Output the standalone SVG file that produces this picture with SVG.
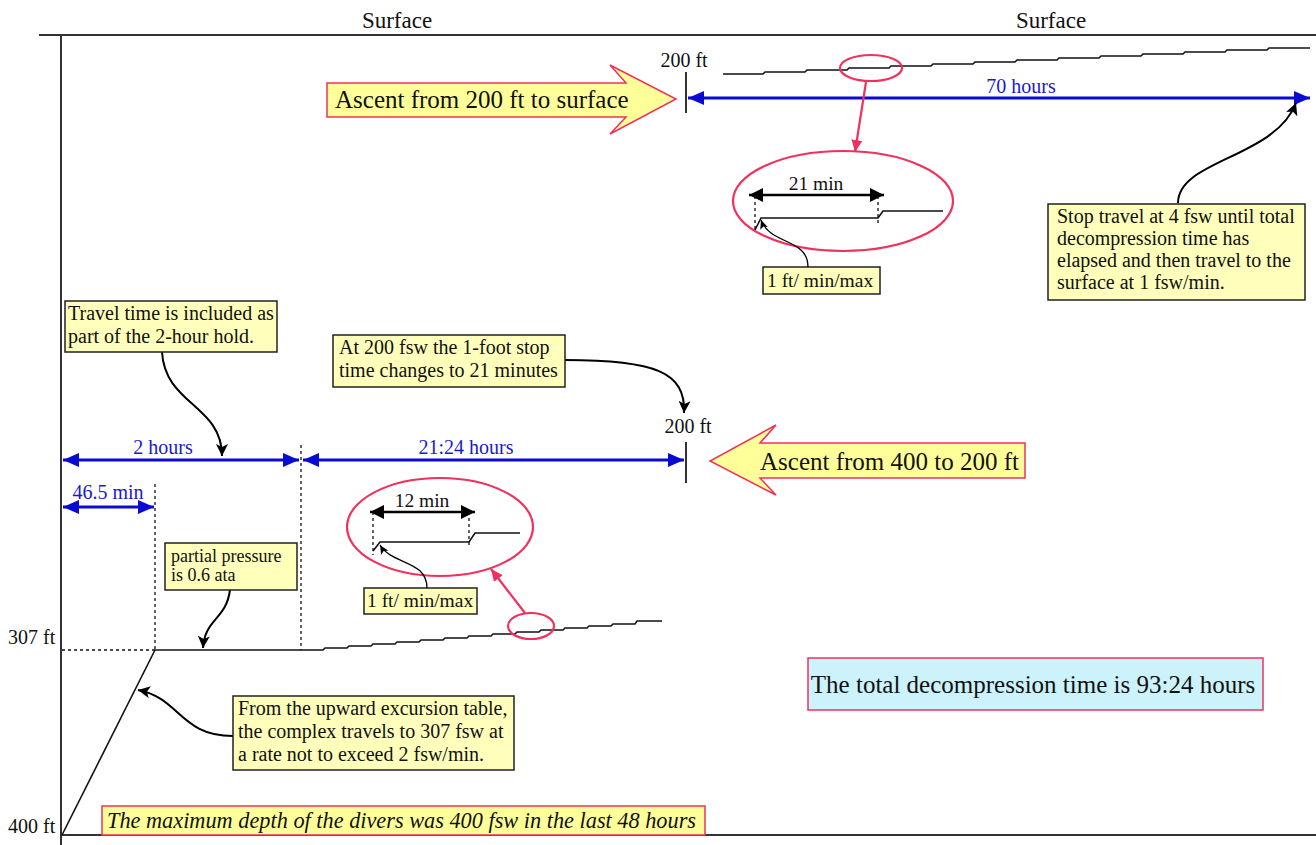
<svg xmlns="http://www.w3.org/2000/svg" width="1316" height="845" viewBox="0 0 1316 845">
<defs>
<style>
text{font-family:"Liberation Serif","Times New Roman",serif;fill:#111}
.ax{stroke:#333;stroke-width:2;fill:none}
.prof{stroke:#111;stroke-width:1.6;fill:none}
.dot{stroke:#111;stroke-width:1.3;stroke-dasharray:3 3;fill:none}
.blue{stroke:#0a0ad2;stroke-width:3;fill:none;marker-start:url(#bh);marker-end:url(#bh)}
.blk{stroke:#000;stroke-width:2.5;fill:none;marker-start:url(#kh);marker-end:url(#kh)}
.call{stroke:#000;stroke-width:2;fill:none;marker-end:url(#sh)}
.call1{stroke:#000;stroke-width:1.3;fill:none;marker-end:url(#th)}
.red{stroke:#f2305c;stroke-width:2.2;fill:none}
.redarr{stroke:#f2305c;stroke-width:2.2;fill:none;marker-end:url(#rh)}
.box{fill:#ffffbb;stroke:#222;stroke-width:1.5}
.bigarrow{fill:#ffff99;stroke:#f2305c;stroke-width:1.5}
.bl{fill:#1a1acc}
.lab{font-size:20px}
.t20{font-size:20px}
.t19{font-size:19.5px}
.t18{font-size:18px}
</style>
<marker id="bh" markerUnits="userSpaceOnUse" markerWidth="16" markerHeight="14" viewBox="0 0 16 14" refX="16" refY="7" orient="auto-start-reverse"><path d="M0,0 L16,7 L0,14 z" fill="#0a0ad2"/></marker>
<marker id="kh" markerUnits="userSpaceOnUse" markerWidth="14" markerHeight="14" viewBox="0 0 14 14" refX="14" refY="7" orient="auto-start-reverse"><path d="M0,0 L14,7 L0,14 z" fill="#000"/></marker>
<marker id="sh" markerUnits="userSpaceOnUse" markerWidth="12" markerHeight="12" viewBox="0 0 12 12" refX="12" refY="6" orient="auto"><path d="M0,0 L12,6 L0,12 L3,6 z" fill="#000"/></marker>
<marker id="th" markerUnits="userSpaceOnUse" markerWidth="9" markerHeight="8" viewBox="0 0 9 8" refX="9" refY="4" orient="auto"><path d="M0,0 L9,4 L0,8 L2,4 z" fill="#000"/></marker>
<marker id="rh" markerUnits="userSpaceOnUse" markerWidth="12" markerHeight="11" viewBox="0 0 12 11" refX="12" refY="5.5" orient="auto"><path d="M0,0 L12,5.5 L0,11 z" fill="#f2305c"/></marker>
</defs>

<g id="axes">
<line class="ax" x1="39" y1="35" x2="1316" y2="35"/>
<line class="ax" x1="61" y1="35" x2="61" y2="845"/>
<line class="ax" x1="61" y1="835" x2="1316" y2="835"/>
<text x="397" y="28" font-size="23" text-anchor="middle">Surface</text>
<text x="1051" y="28" font-size="23" text-anchor="middle">Surface</text>
<text class="lab" x="8" y="644">307 ft</text>
<text class="lab" x="8" y="833">400 ft</text>
</g>

<g id="profile">
<line class="prof" x1="62" y1="835" x2="155" y2="650"/>
<line class="prof" x1="155" y1="650" x2="301" y2="650"/>
<polyline class="prof" points="301,650 323,650 325,648 347,648 349,646 371,646 373,644 395,644 397,642 419,642 421,640 443,640 445,638 467,638 469,636 491,636 493,634 515,634 517,632 539,632 541,630 563,630 565,628 587,628 589,626 611,626 613,624 635,624 637,621 662,621"/>
<polyline class="prof" points="723,74 763,74 765,72 805,72 807,70 847,70 849,68 889,68 891,66 931,66 933,64 973,64 975,62 1015,62 1017,60 1057,60 1059,58 1099,58 1101,56 1141,56 1143,54 1183,54 1185,52 1225,52 1227,50 1267,50 1269,48 1310,48"/>
<line class="dot" x1="62" y1="650" x2="155" y2="650"/>
<line class="dot" x1="155" y1="484" x2="155" y2="650"/>
<line class="dot" x1="301" y1="445" x2="301" y2="650"/>
<line class="ax" x1="686" y1="72" x2="686" y2="113" stroke-width="1.5"/>
<line class="ax" x1="686" y1="442" x2="686" y2="483" stroke-width="1.5"/>
<text class="lab" x="684" y="67" text-anchor="middle">200 ft</text>
<text class="lab" x="688" y="433" text-anchor="middle">200 ft</text>
</g>

<g id="connectors">
<line class="blue" x1="688" y1="98" x2="1310" y2="98"/>
<text class="bl lab" x="1021" y="93" text-anchor="middle">70 hours</text>
<line class="blue" x1="63" y1="460" x2="299" y2="460"/>
<text class="bl lab" x="163" y="454" text-anchor="middle">2 hours</text>
<line class="blue" x1="303" y1="460" x2="684" y2="460"/>
<text class="bl lab" x="466" y="454" text-anchor="middle">21:24 hours</text>
<line class="blue" x1="63" y1="507" x2="154" y2="507"/>
<text class="bl lab" x="108" y="499" text-anchor="middle">46.5 min</text>

<path class="call" d="M162,352 C165,405 222,405 222,456"/>
<path class="call" d="M565,360 C655,360 686,372 684,413"/>
<path class="call" d="M230,590 C226,620 205,618 203,648"/>
<path class="call" d="M233,736 C180,736 180,698 138,690"/>
<path class="call" d="M1178,203 C1178,160 1275,158 1296,103"/>

<path class="redarr" d="M866,82 L855,152"/>
<path class="redarr" d="M525,613 L491,569"/>
</g>

<g id="zoom-upper">
<ellipse class="red" cx="871" cy="68" rx="31" ry="13"/>
<ellipse class="red" cx="843" cy="201" rx="110" ry="50"/>
<line class="blk" x1="749" y1="195" x2="884" y2="195"/>
<text x="816" y="190" font-size="19.5" text-anchor="middle">21 min</text>
<line class="dot" x1="755" y1="196" x2="755" y2="232"/>
<line class="dot" x1="878" y1="196" x2="878" y2="224"/>
<polyline class="prof" points="755,230 761,218 878,218 883,211 943,211"/>
<rect class="box" x="763" y="267" width="117" height="27"/>
<text class="t19" x="767" y="287">1 ft/ min/max</text>
<path class="call1" d="M808,267 C808,238 770,245 761,220"/>
</g>

<g id="zoom-lower">
<ellipse class="red" cx="531" cy="626" rx="23" ry="13"/>
<ellipse class="red" cx="440" cy="527" rx="93" ry="49"/>
<line class="blk" x1="370" y1="512" x2="475" y2="512"/>
<text x="422" y="507" font-size="19.5" text-anchor="middle">12 min</text>
<line class="dot" x1="373" y1="512" x2="373" y2="555"/>
<line class="dot" x1="469" y1="512" x2="469" y2="545"/>
<polyline class="prof" points="373,551 380,542 469,542 475,533 520,533"/>
<rect class="box" x="364" y="588" width="113" height="26"/>
<text class="t19" x="367" y="607">1 ft/ min/max</text>
<path class="call1" d="M427,588 C427,560 392,565 380,545"/>
</g>

<g id="note-travel">
<rect class="box" x="65" y="301" width="212" height="51"/>
<text class="t20" x="68" y="320">Travel time is included as</text>
<text class="t20" x="68" y="343">part of the 2-hour hold.</text>
</g>

<g id="note-200fsw">
<rect class="box" x="333" y="335" width="232" height="52"/>
<text class="t20" x="339" y="354">At 200 fsw the 1-foot stop</text>
<text class="t20" x="339" y="377">time changes to 21 minutes</text>
</g>

<g id="note-pp">
<rect class="box" x="165" y="543" width="132" height="47"/>
<text class="t18" x="171" y="562">partial pressure</text>
<text class="t18" x="171" y="581">is 0.6 ata</text>
</g>

<g id="note-excursion">
<rect class="box" x="233" y="696" width="281" height="74"/>
<text class="t20" x="238" y="715">From the upward excursion table,</text>
<text class="t20" x="238" y="738">the complex travels to 307 fsw at</text>
<text class="t20" x="238" y="761">a rate not to exceed 2 fsw/min.</text>
</g>

<g id="note-stop">
<rect class="box" x="1048" y="204" width="257" height="96"/>
<text class="t20" x="1057" y="223">Stop travel at 4 fsw until total</text>
<text class="t20" x="1057" y="245">decompression time has</text>
<text class="t20" x="1057" y="267">elapsed and then travel to the</text>
<text class="t20" x="1057" y="289">surface at 1 fsw/min.</text>
</g>

<g id="arrow-ascent-200">
<path class="bigarrow" d="M327,83 L626,83 L610,65 L676,99 L610,134 L626,117 L327,117 Z"/>
<text x="335" y="108" font-size="25">Ascent from 200 ft to surface</text>
</g>

<g id="arrow-ascent-400">
<path class="bigarrow" d="M1025,443 L760,443 L776,425 L710,461 L776,495 L760,478 L1025,478 Z"/>
<text x="760" y="470" font-size="25">Ascent from 400 to 200 ft</text>
</g>

<g id="total">
<rect x="808" y="658" width="455" height="52" fill="#ccf2fb" stroke="#f2305c" stroke-width="1.5"/>
<text x="1033" y="693" font-size="25" text-anchor="middle">The total decompression time is 93:24 hours</text>
</g>

<g id="maxdepth">
<rect x="102" y="806" width="603" height="29" fill="#ffff99" stroke="#f2305c" stroke-width="1.5"/>
<text x="107" y="828" font-size="22.3" font-style="italic">The maximum depth of the divers was 400 fsw in the last 48 hours</text>
</g>
</svg>
